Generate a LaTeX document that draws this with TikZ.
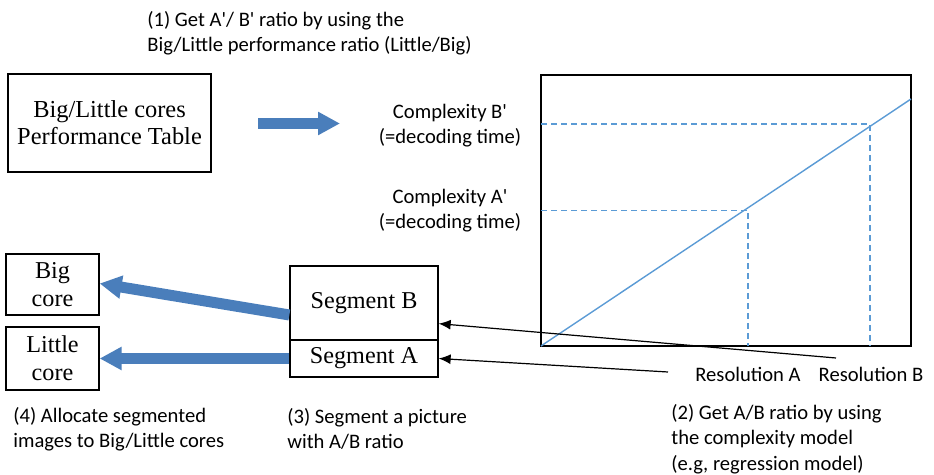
\documentclass[tikz,border=0pt]{standalone}
\usepackage{fontspec}
\setmainfont{Liberation Serif}
\newfontfamily\calib{Carlito}
\usetikzlibrary{arrows.meta,positioning}
\definecolor{officeblue}{HTML}{4A7EBB}
\definecolor{lineblue}{HTML}{5B9BD5}

\tikzset{
  box/.style={draw, line width=0.65pt, align=center, inner sep=0pt,
    font=\fontsize{12.1}{14}\selectfont},
  note/.style={font=\calib\fontsize{10.3}{12.7}\selectfont, align=left, inner sep=0pt},
  blockarrow/.style={officeblue, line width=5.5pt, -{Triangle[length=11pt,width=11pt]}},
  thinarrow/.style={line width=0.6pt, -{Latex[length=6pt,width=5pt]}},
  guide/.style={lineblue, line width=0.6pt, dash pattern=on 3pt off 2pt},
}

\begin{document}
\begin{tikzpicture}[x=0.5pt,y=-0.5pt]
\useasboundingbox (0,0) rectangle (934,475);

% boxes
\node[box, minimum width=101.5pt, minimum height=49pt,
  font=\fontsize{12.2}{13.6}\selectfont] (perf) at (109.5,123) {Big/Little cores\\Performance Table};
\node[box, minimum width=46.5pt, minimum height=30.5pt] (big) at (52.5,284.5) {Big\\core};
\node[box, minimum width=46.5pt, minimum height=31.5pt] (little) at (52.5,358.5) {Little\\core};
\node[box, minimum width=74pt, minimum height=37pt] (segB) at (364,303) {Segment B};
\node[box, minimum width=74pt, minimum height=18.5pt] (segA) at (364,358.5) {Segment A};

% complexity model chart
\draw[line width=0.65pt] (541,75) rectangle (911,346);
\draw[lineblue, line width=0.7pt] (541,346) -- (911,99);
\draw[guide] (541,124) -- (870,124) -- (870,346);
\draw[guide] (541,210.5) -- (748,210.5) -- (748,346);
\node[note, align=center] (cB) at (450,125.5) {Complexity B'\\(=decoding time)};
\node[note, align=center] (cA) at (450,210.5) {Complexity A'\\(=decoding time)};
\node[note] (resA) at (748,374) {Resolution A};
\node[note] (resB) at (871,374) {Resolution B};

% step captions
\node[note, anchor=west] (step1) at (147,33) {(1) Get A'/ B' ratio by using the\\Big/Little performance ratio (Little/Big)};
\node[note, anchor=west] (step2) at (671,439) {(2) Get A/B ratio by using\\the complexity model\\(e.g, regression model)};
\node[note, anchor=west] (step3) at (287,429) {(3) Segment a picture\\with A/B ratio};
\node[note, anchor=west] (step4) at (13,429) {(4) Allocate segmented\\images to Big/Little cores};

% arrows
\coordinate (ptail) at (258,123.5);
\coordinate (phead) at (340,123.5);
\coordinate (tailB) at (836,358);
\coordinate (tailA) at (668,372);
\draw[blockarrow] (ptail) -- (phead);
\draw[blockarrow] ([yshift=-6pt]segB.west) -- ([yshift=0.5pt]big.east);
\draw[blockarrow] (segA.west) -- (little.east |- segA.west);
\draw[thinarrow] (tailB) -- ([yshift=8.5pt]segB.south east);
\draw[thinarrow] (tailA) -- (segA.east);
\end{tikzpicture}
\end{document}
